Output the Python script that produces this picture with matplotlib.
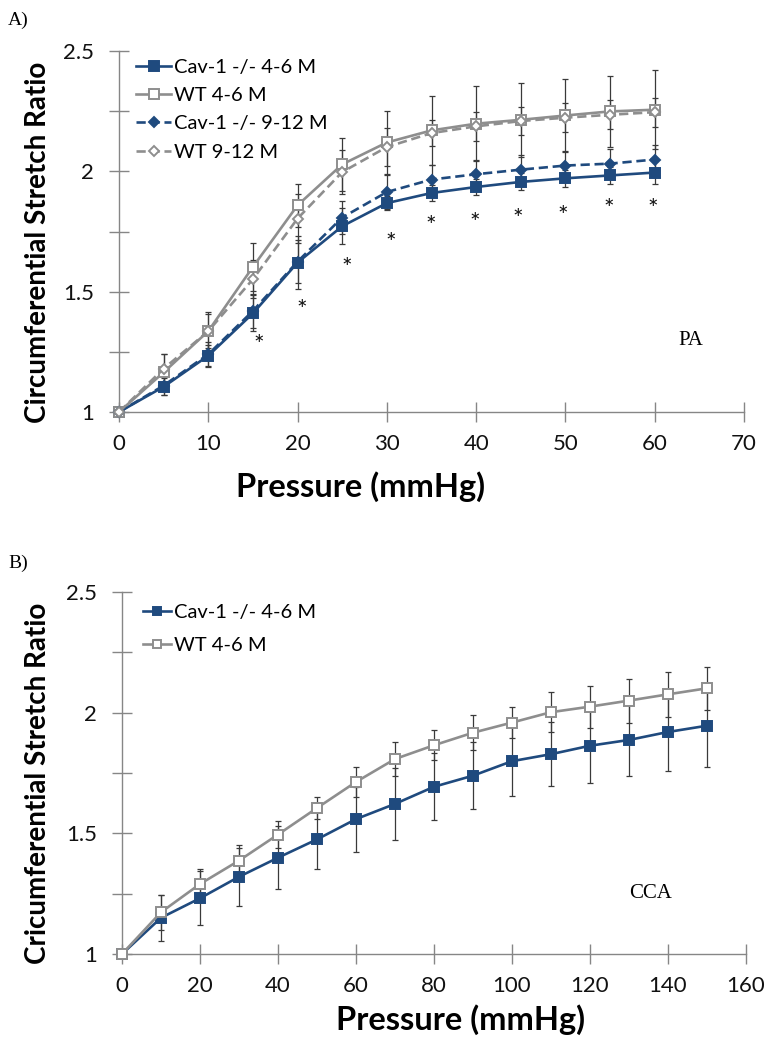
import matplotlib
matplotlib.use("Agg")
import matplotlib.pyplot as plt
from matplotlib.ticker import MultipleLocator, FuncFormatter

# ---- panel A (PA) ----
pa_pressure = [0, 5, 10, 15, 20, 25, 30, 35, 40, 45, 50, 55, 60]
pa_cav_46 = [1, 1.105, 1.234, 1.41, 1.621, 1.772, 1.868, 1.91, 1.935, 1.956, 1.971, 1.983, 1.995]
pa_cav_46_err = [0, 0.035, 0.045, 0.075, 0.11, 0.076, 0.03, 0.035, 0.035, 0.035, 0.036, 0.037, 0.049]
pa_wt_46 = [1, 1.165, 1.336, 1.603, 1.859, 2.029, 2.12, 2.17, 2.198, 2.214, 2.232, 2.249, 2.256]
pa_wt_46_err = [0, 0.075, 0.08, 0.10, 0.09, 0.11, 0.13, 0.145, 0.156, 0.154, 0.153, 0.149, 0.163]
pa_cav_912 = [1, 1.11, 1.24, 1.42, 1.625, 1.808, 1.914, 1.966, 1.988, 2.007, 2.024, 2.032, 2.049]
pa_cav_912_err = [0, 0.04, 0.05, 0.07, 0.09, 0.07, 0.07, 0.06, 0.06, 0.06, 0.06, 0.06, 0.06]
pa_wt_912 = [1, 1.18, 1.336, 1.552, 1.804, 1.997, 2.101, 2.159, 2.187, 2.209, 2.223, 2.235, 2.246]
pa_wt_912_err = [0, 0.06, 0.07, 0.08, 0.1, 0.09, 0.08, 0.055, 0.06, 0.06, 0.06, 0.06, 0.06]
star_x = [15.6, 20.5, 25.5, 30.4, 34.9, 39.9, 44.7, 49.7, 54.8, 59.8]
star_y = [1.278, 1.423, 1.596, 1.70, 1.769, 1.785, 1.80, 1.813, 1.842, 1.842]

# ---- panel B (CCA) ----
cca_pressure = [0, 10, 20, 30, 40, 50, 60, 70, 80, 90, 100, 110, 120, 130, 140, 150]
cca_cav = [1, 1.15, 1.231, 1.32, 1.399, 1.475, 1.559, 1.622, 1.693, 1.739, 1.799, 1.828, 1.863, 1.887, 1.92, 1.946]
cca_cav_err = [0, 0.096, 0.111, 0.121, 0.131, 0.123, 0.135, 0.15, 0.139, 0.139, 0.145, 0.132, 0.153, 0.151, 0.163, 0.172]
cca_wt = [1, 1.173, 1.29, 1.387, 1.495, 1.605, 1.713, 1.808, 1.865, 1.917, 1.959, 2.002, 2.025, 2.05, 2.076, 2.101]
cca_wt_err = [0, 0.072, 0.062, 0.065, 0.057, 0.044, 0.061, 0.07, 0.063, 0.072, 0.066, 0.082, 0.087, 0.091, 0.094, 0.09]

BLUE = '#1f4a7e'
GRAY = '#8e8e8e'
AXC = '#868686'
ERRC = '#3a3a3a'
SANS = 'Lato'
SERIF = 'Liberation Serif'

plt.rcParams['font.family'] = SANS

fig = plt.figure(figsize=(7.7, 10.5), dpi=100)
axA = fig.add_axes([119/770, 1-412/1050, 625/770, 361/1050])
axB = fig.add_axes([122/770, 1-954/1050, 624/770, 362/1050])


def series(ax, x, y, err, color, ls, marker, ms, mfc, label):
    ax.errorbar(x, y, yerr=err, fmt='none', ecolor=ERRC, elinewidth=0.9,
                capsize=2.5, capthick=0.9, zorder=2, clip_on=False)
    ax.plot(x, y, color=color, ls=ls, lw=1.9, marker=marker, ms=ms,
            mfc=mfc, mec=color, mew=1.4, label=label, zorder=3, clip_on=False)


def style(ax, xmax, xstep, ylabel, xlab_pos, ylab_x):
    ax.set_xlim(0, xmax)
    ax.set_ylim(1, 2.5)
    for s in ['top', 'right']:
        ax.spines[s].set_visible(False)
    for s in ['left', 'bottom']:
        ax.spines[s].set_color(AXC)
        ax.spines[s].set_linewidth(1.0)
    ax.xaxis.set_major_locator(MultipleLocator(xstep))
    ax.yaxis.set_major_locator(MultipleLocator(0.5))
    ax.yaxis.set_minor_locator(MultipleLocator(0.25))
    ax.yaxis.set_major_formatter(FuncFormatter(lambda v, p: '%g' % v))
    ax.tick_params(axis='both', which='both', direction='inout', length=14,
                   width=1.0, color=AXC, labelsize=16, labelcolor='#111111')
    ax.tick_params(axis='y', pad=11)
    ax.tick_params(axis='x', pad=9)
    ax.set_xlabel('Pressure (mmHg)', fontsize=23.5, fontweight='bold')
    ax.set_ylabel(ylabel, fontsize=20, fontweight='bold')
    ax.xaxis.set_label_coords(*xlab_pos)
    ax.yaxis.set_label_coords(ylab_x, 0.47)


series(axA, pa_pressure, pa_cav_46, pa_cav_46_err, BLUE, '-', 's', 7, BLUE, 'Cav-1 -/- 4-6 M')
series(axA, pa_pressure, pa_wt_46, pa_wt_46_err, GRAY, '-', 's', 7, 'white', 'WT 4-6 M')
series(axA, pa_pressure, pa_cav_912, pa_cav_912_err, BLUE, (0, (3.5, 1.8)), 'D', 5.5, BLUE, 'Cav-1 -/- 9-12 M')
series(axA, pa_pressure, pa_wt_912, pa_wt_912_err, GRAY, (0, (3.5, 1.8)), 'D', 5.5, 'white', 'WT 9-12 M')
for sx, sy in zip(star_x, star_y):
    axA.text(sx, sy, '*', ha='center', va='center', fontsize=18, color='#111111')
style(axA, 70, 10, 'Circumferential Stretch Ratio', (0.387, -0.165), -0.109)
axA.text(0.915, 0.197, 'PA', transform=axA.transAxes, family=SERIF, fontsize=15,
         ha='center', va='center')
axA.legend(loc='upper left', bbox_to_anchor=(0.015, 1.0), frameon=False, fontsize=14.5,
           handlelength=1.7, handletextpad=0.15, labelspacing=0.55, borderaxespad=0)

series(axB, cca_pressure, cca_cav, cca_cav_err, BLUE, '-', 's', 7, BLUE, 'Cav-1 -/- 4-6 M')
series(axB, cca_pressure, cca_wt, cca_wt_err, GRAY, '-', 's', 7, 'white', 'WT 4-6 M')
style(axB, 160, 20, 'Cricumferential Stretch Ratio', (0.543, -0.14), -0.114)
axB.text(0.847, 0.168, 'CCA', transform=axB.transAxes, family=SERIF, fontsize=15,
         ha='center', va='center')
axB.legend(loc='upper left', bbox_to_anchor=(0.02, 0.99), frameon=False, fontsize=14.5,
           handlelength=1.4, handletextpad=0.15, labelspacing=0.8, borderaxespad=0,
           markerscale=0.8)

fig.text(8/770, 1-20/1050, 'A)', family=SERIF, fontsize=14, va='center', ha='left')
fig.text(8/770, 1-563/1050, 'B)', family=SERIF, fontsize=14, va='center', ha='left')

fig.savefig('out.png', dpi=100, facecolor='white')
